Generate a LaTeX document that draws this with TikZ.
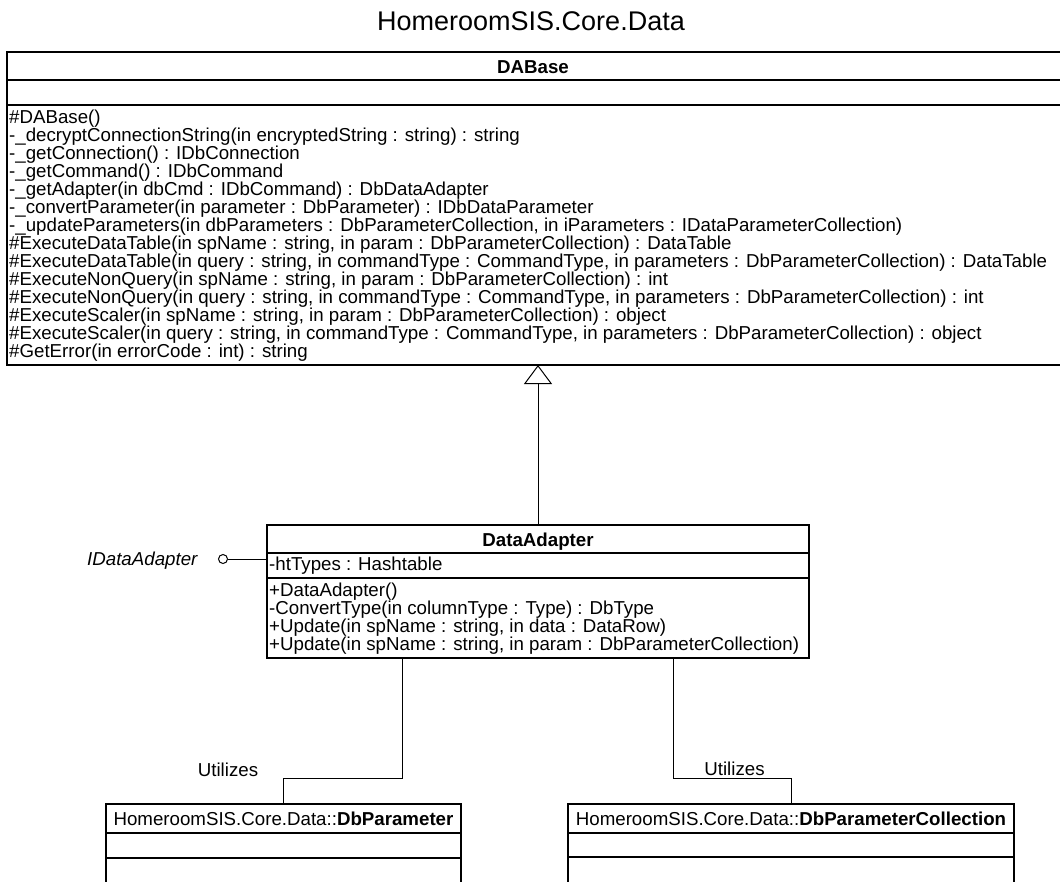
\documentclass[tikz,border=0pt]{standalone}
\usepackage{fontspec}
\setmainfont{Liberation Sans}
\usetikzlibrary{arrows.meta,calc}
\begin{document}
\begin{tikzpicture}[x=1pt,y=-1pt,
  box/.style={draw, line width=1.2pt, inner sep=0pt, outer sep=0pt, anchor=north west},
  rule/.style={line width=1.2pt},
  link/.style={line width=1pt},
  txt/.style={inner sep=0pt, anchor=base west, font=\fontsize{18.7}{20}\selectfont},
  ctxt/.style={inner sep=0pt, anchor=base, font=\fontsize{18.7}{20}\selectfont},
  cname/.style={ctxt, font=\fontsize{18.7}{20}\selectfont\bfseries},
]
\useasboundingbox (0,0) rectangle (1060,881);

% package title
\node[inner sep=0pt, anchor=base, font=\fontsize{27}{30}\selectfont] (pkg) at (531,30) {HomeroomSIS.Core.Data};

% ---- class DABase ----
\node[box, minimum width=1055pt, minimum height=313pt] (dab) at (7,52) {};
\draw[rule] (7,80) -- (1062,80);
\draw[rule] (7,105) -- (1062,105);
\node[cname] (dabname) at (533,73) {DABase};
\foreach \t [count=\i from 0] in {
  {\#DABase()},
  {-\_decryptConnectionString(in encryptedString : string) : string},
  {-\_getConnection() : IDbConnection},
  {-\_getCommand() : IDbCommand},
  {-\_getAdapter(in dbCmd : IDbCommand) : DbDataAdapter},
  {-\_convertParameter(in parameter : DbParameter) : IDbDataParameter},
  {-\_updateParameters(in dbParameters : DbParameterCollection, in iParameters : IDataParameterCollection)},
  {\#ExecuteDataTable(in spName : string, in param : DbParameterCollection) : DataTable},
  {\#ExecuteDataTable(in query : string, in commandType : CommandType, in parameters : DbParameterCollection) : DataTable},
  {\#ExecuteNonQuery(in spName : string, in param : DbParameterCollection) : int},
  {\#ExecuteNonQuery(in query : string, in commandType : CommandType, in parameters : DbParameterCollection) : int},
  {\#ExecuteScaler(in spName : string, in param : DbParameterCollection) : object},
  {\#ExecuteScaler(in query : string, in commandType : CommandType, in parameters : DbParameterCollection) : object},
  {\#GetError(in errorCode : int) : string}}
  \node[txt] (dabop\i) at (9,123.5+18*\i) {\t};

% ---- class DataAdapter ----
\node[box, minimum width=542pt, minimum height=133pt] (da) at (267,525) {};
\draw[rule] (267,553) -- (809,553);
\draw[rule] (267,578) -- (809,578);
\node[cname] (daname) at (538,546) {DataAdapter};
\node[txt] (daattr) at (269,570.5) {-htTypes : Hashtable};
\foreach \t [count=\i from 0] in {
  {+DataAdapter()},
  {-ConvertType(in columnType : Type) : DbType},
  {+Update(in spName : string, in data : DataRow)},
  {+Update(in spName : string, in param : DbParameterCollection)}}
  \node[txt] (daop\i) at (269,596.5+18*\i) {\t};

% interface lollipop
\node[circle, draw, line width=1pt, minimum size=9pt, inner sep=0pt] (lolli) at (223,559) {};
\node[txt, font=\fontsize{18.7}{20}\selectfont\itshape] (ifc) at (87,565) {IDataAdapter};
\draw[link] (lolli.east) -- (lolli.east -| da.west);

% generalization
\draw[link, -{Triangle[open, width=28pt, length=19pt]}] (da.north) -- (da.north |- dab.south);

% ---- class DbParameter ----
\node[box, minimum width=355pt, minimum height=80pt] (dbp) at (106,804) {};
\draw[rule] (106,833) -- (461,833);
\draw[rule] (106,858) -- (461,858);
\node[ctxt] (dbpname) at (283.5,825) {HomeroomSIS.Core.Data::\textbf{DbParameter}};

% ---- class DbParameterCollection ----
\node[box, minimum width=446pt, minimum height=80pt] (dbc) at (568,804) {};
\draw[rule] (568,833) -- (1014,833);
\draw[rule] (568,857) -- (1014,857);
\node[ctxt] (dbcname) at (791,825) {HomeroomSIS.Core.Data::\textbf{DbParameterCollection}};

% usage links
\coordinate (dal) at ($(da.south west)!0.25!(da.south east)$);
\coordinate (dar) at ($(da.south west)!0.75!(da.south east)$);
\draw[link] (dal) -- ++(0,120) -| (dbp.north);
\draw[link] (dar) -- ++(0,120) -| (dbc.north);
\node[ctxt] (use1) at (228,776) {Utilizes};
\node[ctxt] (use2) at (734.5,775) {Utilizes};
\end{tikzpicture}
\end{document}
